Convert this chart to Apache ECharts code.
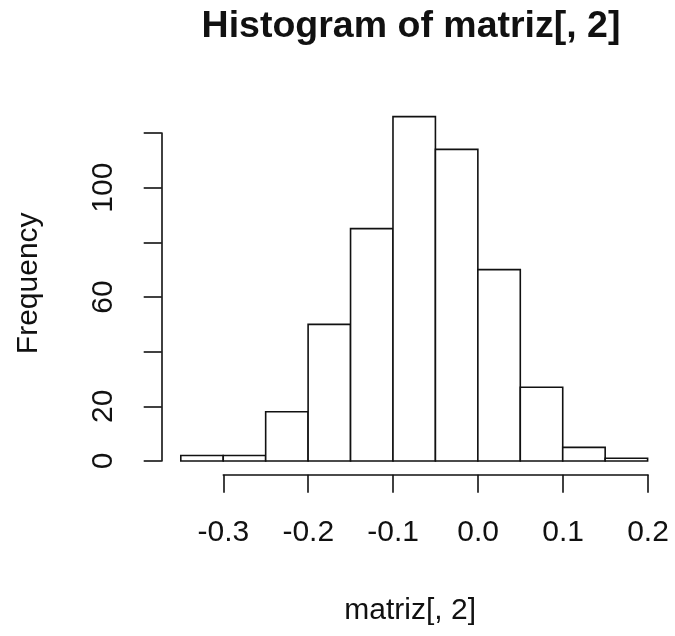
<!DOCTYPE html>
<html>
<head>
<meta charset="utf-8">
<script src="https://cdn.jsdelivr.net/npm/echarts@6/dist/echarts.min.js"></script>
<style>
html,body{margin:0;padding:0;background:#fff;}
#chart{width:675px;height:636px;}
</style>
</head>
<body>
<div id="chart"></div>
<script>
// Histogram bins (left edges, right edges) and counts
const binStarts = [-0.35, -0.30, -0.25, -0.20, -0.15, -0.10, -0.05, 0.00, 0.05, 0.10, 0.15];
const binEnds   = [-0.30, -0.25, -0.20, -0.15, -0.10, -0.05, 0.00, 0.05, 0.10, 0.15, 0.20];
const counts    = [2, 2, 18, 50, 85, 126, 114, 70, 27, 5, 1];
// Tick labels
const xTicks = [-0.3, -0.2, -0.1, 0.0, 0.1, 0.2];
const yTicks = [0, 20, 40, 60, 80, 100, 120];
const yTickLabelsShown = ['0', '20', '60', '100'];

const titleText = 'Histogram of matriz[, 2]';
const xName = 'matriz[, 2]';
const yName = 'Frequency';

const FONT = '"Liberation Sans", Arial, sans-serif';
const INK = '#111';
const LW = 1.6;

const histData = binStarts.map((s, i) => [s, binEnds[i], counts[i]]);

const chart = echarts.init(document.getElementById('chart'), null, {renderer: 'canvas'});
chart.setOption({
  backgroundColor: '#fff',
  animation: false,
  title: {
    text: titleText,
    left: 411,
    textAlign: 'center',
    top: 8,
    padding: 0,
    textStyle: {fontFamily: FONT, fontWeight: 'bold', fontSize: 37.5, color: INK}
  },
  grid: [
    // plot region
    {left: 161.7, right: 8.3, top: 102.8, bottom: 161.2},
    // x axis drawn from -0.3 to 0.2 only
    {left: 223.3, right: 27, top: 102.8, bottom: 161.2},
    // y axis drawn from 0 to 120 only
    {left: 161.7, right: 8.3, top: 133, bottom: 175}
  ],
  xAxis: [
    {
      gridIndex: 0, type: 'value', min: -0.3725, max: 0.2225,
      name: xName, nameLocation: 'middle', nameGap: 121,
      nameTextStyle: {fontFamily: FONT, fontSize: 30, color: INK, padding: [0, 8, 0, 0]},
      axisLine: {show: false}, axisTick: {show: false}, axisLabel: {show: false}, splitLine: {show: false}
    },
    {
      gridIndex: 1, type: 'value', min: xTicks[0], max: xTicks[xTicks.length - 1], interval: 0.1,
      position: 'bottom',
      axisLine: {show: true, onZero: false, lineStyle: {color: INK, width: LW}},
      axisTick: {show: true, inside: false, length: 18, lineStyle: {color: INK, width: LW}},
      axisLabel: {
        show: true, margin: 43, showMinLabel: true, showMaxLabel: true,
        fontFamily: FONT, fontSize: 30, color: INK,
        formatter: v => (Math.abs(v) < 1e-9 ? 0 : v).toFixed(1)
      },
      splitLine: {show: false}
    },
    {
      gridIndex: 2, type: 'value', show: false, min: -1, max: 1
    }
  ],
  yAxis: [
    {
      gridIndex: 0, type: 'value', min: -5.04, max: 131.04,
      name: yName, nameLocation: 'middle', nameGap: 118,
      nameTextStyle: {fontFamily: FONT, fontSize: 30, color: INK, padding: [0, 0, 0, 11]},
      axisLine: {show: false}, axisTick: {show: false}, axisLabel: {show: false}, splitLine: {show: false}
    },
    {
      gridIndex: 1, type: 'value', show: false, min: 0, max: 1
    },
    {
      gridIndex: 2, type: 'value', min: yTicks[0], max: yTicks[yTicks.length - 1], interval: 20,
      position: 'left',
      axisLine: {show: true, onZero: false, lineStyle: {color: INK, width: LW}},
      axisTick: {show: true, inside: false, length: 18, lineStyle: {color: INK, width: LW}},
      axisLabel: {
        show: true, margin: 43, rotate: 90, showMinLabel: true, showMaxLabel: true,
        fontFamily: FONT, fontSize: 30, color: INK,
        formatter: v => (yTickLabelsShown.indexOf(String(v)) >= 0 ? String(v) : '')
      },
      splitLine: {show: false}
    }
  ],
  series: [{
    type: 'custom',
    xAxisIndex: 0,
    yAxisIndex: 0,
    encode: {x: [0, 1], y: 2},
    data: histData,
    renderItem: function (params, api) {
      const p0 = api.coord([api.value(0), 0]);
      const p1 = api.coord([api.value(1), api.value(2)]);
      return {
        type: 'rect',
        shape: {x: p0[0], y: p1[1], width: p1[0] - p0[0], height: p0[1] - p1[1]},
        style: {fill: '#fff', stroke: INK, lineWidth: LW}
      };
    }
  }]
});
</script>
</body>
</html>
